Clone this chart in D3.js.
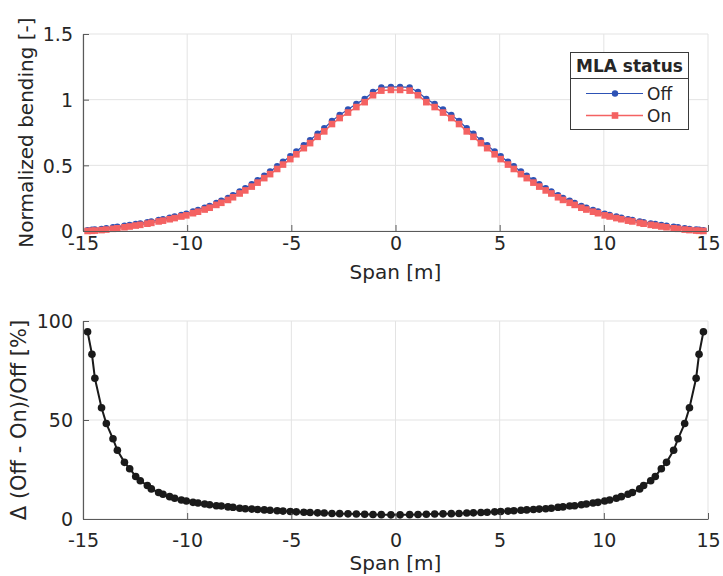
<!DOCTYPE html>
<html>
<head>
<meta charset="utf-8">
<script src="https://cdn.jsdelivr.net/npm/d3@7"></script>
<style>
  body { margin: 0; background: #fff; }
  text { font-family: "DejaVu Sans", sans-serif; fill: #262626; }
</style>
</head>
<body>
<div id="chart"></div>
<script>
// Span positions [m]
var spanPos = [-14.78,-14.57,-14.43,-14.11,-13.88,-13.56,-13.35,-13.01,-12.76,-12.47,-12.25,-11.91,-11.72,-11.37,-11.16,-10.84,-10.60,-10.28,-10.04,-9.72,-9.48,-9.16,-8.92,-8.60,-8.36,-8.04,-7.80,-7.48,-7.21,-6.90,-6.62,-6.30,-6.02,-5.68,-5.40,-5.05,-4.76,-4.40,-4.10,-3.74,-3.42,-3.05,-2.68,-2.28,-1.88,-1.48,-1.08,-0.68,-0.22,
  0.22,0.68,1.08,1.48,1.88,2.28,2.68,3.05,3.42,3.74,4.10,4.40,4.76,5.05,5.40,5.68,6.02,6.30,6.62,6.90,7.21,7.48,7.80,8.04,8.36,8.60,8.92,9.16,9.48,9.72,10.04,10.28,10.60,10.84,11.16,11.37,11.72,11.91,12.25,12.47,12.76,13.01,13.35,13.56,13.88,14.11,14.43,14.57,14.78];

// Normalized bending, MLA off
var bendOff = [0.006,0.009,0.011,0.016,0.021,0.028,0.032,0.040,0.046,0.053,0.058,0.067,0.073,0.084,0.090,0.101,0.110,0.122,0.131,0.148,0.160,0.177,0.191,0.213,0.230,0.252,0.273,0.302,0.326,0.356,0.387,0.422,0.453,0.493,0.527,0.569,0.606,0.653,0.692,0.740,0.782,0.838,0.884,0.926,0.968,1.005,1.058,1.093,1.097,
  1.097,1.093,1.058,1.005,0.968,0.926,0.884,0.838,0.782,0.740,0.692,0.653,0.606,0.569,0.527,0.493,0.453,0.422,0.387,0.356,0.326,0.302,0.273,0.252,0.230,0.213,0.191,0.177,0.160,0.148,0.131,0.122,0.110,0.101,0.090,0.084,0.073,0.067,0.058,0.053,0.046,0.040,0.032,0.028,0.021,0.016,0.011,0.009,0.006];

// Normalized bending, MLA on
var bendOn = [0.0003,0.0015,0.0032,0.0070,0.0109,0.0167,0.0209,0.0286,0.0343,0.0416,0.0468,0.0557,0.0619,0.0727,0.0788,0.0896,0.0985,0.1103,0.1191,0.1356,0.1470,0.1635,0.1772,0.1987,0.2148,0.2366,0.2569,0.2857,0.3090,0.3382,0.3684,0.4026,0.4331,0.4723,0.5059,0.5474,0.5842,0.6308,0.6692,0.7171,0.7585,0.8145,0.8601,0.9019,0.9438,0.9809,1.0337,1.0690,1.0740,
  1.0740,1.0690,1.0337,0.9809,0.9438,0.9019,0.8601,0.8145,0.7585,0.7171,0.6692,0.6308,0.5842,0.5474,0.5059,0.4723,0.4331,0.4026,0.3684,0.3382,0.3090,0.2857,0.2569,0.2366,0.2148,0.1987,0.1772,0.1635,0.1470,0.1356,0.1191,0.1103,0.0985,0.0896,0.0788,0.0727,0.0619,0.0557,0.0468,0.0416,0.0343,0.0286,0.0209,0.0167,0.0109,0.0070,0.0032,0.0015,0.0003];

// Relative difference (Off - On)/Off [%]
var deltaPct = [94.6,83.2,71.1,56.2,48.2,40.5,34.7,28.6,25.4,21.5,19.3,16.9,15.2,13.4,12.5,11.3,10.5,9.6,9.1,8.4,8.1,7.6,7.2,6.7,6.6,6.1,5.9,5.4,5.2,5.0,4.8,4.6,4.4,4.2,4.0,3.8,3.6,3.4,3.3,3.1,3.0,2.8,2.7,2.6,2.5,2.4,2.3,2.2,2.1,
  2.1,2.2,2.3,2.4,2.5,2.6,2.7,2.8,3.0,3.1,3.3,3.4,3.6,3.8,4.0,4.2,4.4,4.6,4.8,5.0,5.2,5.4,5.9,6.1,6.6,6.7,7.2,7.6,8.1,8.4,9.1,9.6,10.5,11.3,12.5,13.4,15.2,16.9,19.3,21.5,25.4,28.6,34.7,40.5,48.2,56.2,71.1,83.2,94.6];

var xTicks = [-15, -10, -5, 0, 5, 10, 15];
var topYTicks = [0, 0.5, 1, 1.5];
var botYTicks = [0, 50, 100];
var legendLabels = ["Off", "On"];

var svgWidth = 723;
var svgHeight = 576;

var svg = d3.select("#chart")
  .append("svg")
  .attr("width", svgWidth)
  .attr("height", svgHeight);

var left = 83, right = 708;
var plain = d => String(d);   // keep a plain hyphen for negatives

// Build one panel (grid, axes, labels) and return its scales
function makePanel(top, bottom, yDomain, yTicks, opts) {
  var x = d3.scaleLinear().domain([-15, 15]).range([left, right]);
  var y = d3.scaleLinear().domain(yDomain).range([bottom, top]);

  var g = svg.append("g");

  // grid
  g.selectAll(".vg").data(xTicks).enter().append("line")
    .attr("x1", d => x(d)).attr("x2", d => x(d))
    .attr("y1", top).attr("y2", bottom)
    .attr("stroke", "#e3e3e3").attr("stroke-width", 1);
  g.selectAll(".hg").data(yTicks).enter().append("line")
    .attr("x1", left).attr("x2", right)
    .attr("y1", d => y(d)).attr("y2", d => y(d))
    .attr("stroke", "#e3e3e3").attr("stroke-width", 1);

  var dataLayer = svg.append("g");
  var axes = svg.append("g");

  var bottomAxis = d3.axisBottom(x).tickValues(xTicks).tickFormat(plain)
    .tickSizeInner(-6).tickSizeOuter(0).tickPadding(opts.xPad);
  var leftAxis = d3.axisLeft(y).tickValues(yTicks).tickFormat(plain)
    .tickSizeInner(-6).tickSizeOuter(0).tickPadding(10);

  var bx = axes.append("g")
    .attr("transform", `translate(0, ${bottom})`)
    .call(bottomAxis);
  var ly = axes.append("g")
    .attr("transform", `translate(${left}, 0)`)
    .call(leftAxis);

  [bx, ly].forEach(function(a) {
    a.select(".domain").attr("stroke", "#5a5a5a").attr("stroke-width", 1.2);
    a.selectAll(".tick line").attr("stroke", "#5a5a5a");
    a.selectAll(".tick text").attr("font-size", "19px").attr("fill", "#333");
  });
  bx.selectAll(".tick text").attr("dy", "0.78em");
  ly.selectAll(".tick text").attr("dy", "0.36em");

  // axis labels
  svg.append("text")
    .attr("x", (left + right) / 2)
    .attr("y", bottom + opts.labelOff)
    .attr("text-anchor", "middle")
    .attr("font-size", "20px")
    .attr("fill", "#333")
    .text("Span [m]");

  svg.append("text")
    .attr("transform", `translate(${opts.yLabelX}, ${(top + bottom) / 2}) rotate(-90)`)
    .attr("text-anchor", "middle")
    .attr("font-size", opts.yLabelSize)
    .attr("fill", "#333")
    .text(opts.yLabel);

  return { x: x, y: y, layer: dataLayer };
}

// Top panel: normalized bending
var topP = makePanel(34, 231, [0, 1.5], topYTicks,
  { xPad: 4, labelOff: 48, yLabelX: 33, yLabelSize: "20px", yLabel: "Normalized bending [-]" });

var offData = spanPos.map((s, i) => ({ s: s, v: bendOff[i] }));
var onData = spanPos.map((s, i) => ({ s: s, v: bendOn[i] }));

var lineTop = d3.line().x(d => topP.x(d.s)).y(d => topP.y(d.v));

var blue = "#2d52b5";
var red = "#f46262";

topP.layer.append("path").datum(offData)
  .attr("d", lineTop).attr("fill", "none")
  .attr("stroke", blue).attr("stroke-width", 1.2);
topP.layer.selectAll(".offDot").data(offData).enter().append("circle")
  .attr("cx", d => topP.x(d.s)).attr("cy", d => topP.y(d.v))
  .attr("r", 3.2).attr("fill", blue);

topP.layer.append("path").datum(onData)
  .attr("d", lineTop).attr("fill", "none")
  .attr("stroke", red).attr("stroke-width", 1.5);
topP.layer.selectAll(".onDot").data(onData).enter().append("rect")
  .attr("x", d => topP.x(d.s) - 3.3).attr("y", d => topP.y(d.v) - 3.3)
  .attr("width", 6.6).attr("height", 6.6).attr("fill", red);

// Legend
var leg = svg.append("g");
leg.append("rect")
  .attr("x", 570.5).attr("y", 52.5).attr("width", 118).attr("height", 77)
  .attr("fill", "#fff").attr("stroke", "#3a3a3a").attr("stroke-width", 1);
leg.append("line")
  .attr("x1", 570.5).attr("x2", 688.5).attr("y1", 78.5).attr("y2", 78.5)
  .attr("stroke", "#3a3a3a").attr("stroke-width", 1);
leg.append("text")
  .attr("x", 629.5).attr("y", 72)
  .attr("text-anchor", "middle")
  .attr("font-size", "17px").attr("font-weight", "bold")
  .attr("fill", "#1a1a1a")
  .text("MLA status");

var legColors = [blue, red];
var legY = [93.5, 115.5];
legendLabels.forEach(function(lbl, i) {
  leg.append("line")
    .attr("x1", 586).attr("x2", 643).attr("y1", legY[i]).attr("y2", legY[i])
    .attr("stroke", legColors[i]).attr("stroke-width", i ? 1.5 : 1.2);
  if (i === 0) {
    leg.append("circle").attr("cx", 615).attr("cy", legY[i]).attr("r", 3.2).attr("fill", blue);
  } else {
    leg.append("rect").attr("x", 611.7).attr("y", legY[i] - 3.3)
      .attr("width", 6.6).attr("height", 6.6).attr("fill", red);
  }
  leg.append("text")
    .attr("x", 647).attr("y", legY[i] + 6.5)
    .attr("font-size", "17px").attr("fill", "#1a1a1a")
    .text(lbl);
});

// Bottom panel: relative difference
var botP = makePanel(321, 519, [0, 100], botYTicks,
  { xPad: 13, labelOff: 51, yLabelX: 26, yLabelSize: "21px", yLabel: "\u0394 (Off - On)/Off [%]" });

var deltaData = spanPos.map((s, i) => ({ s: s, v: deltaPct[i] }));
var lineBot = d3.line().x(d => botP.x(d.s)).y(d => botP.y(d.v));

botP.layer.append("path").datum(deltaData)
  .attr("d", lineBot).attr("fill", "none")
  .attr("stroke", "#1a1a1a").attr("stroke-width", 2);
botP.layer.selectAll(".dDot").data(deltaData).enter().append("circle")
  .attr("cx", d => botP.x(d.s)).attr("cy", d => botP.y(d.v))
  .attr("r", 3.8).attr("fill", "#1a1a1a");
</script>
</body>
</html>
